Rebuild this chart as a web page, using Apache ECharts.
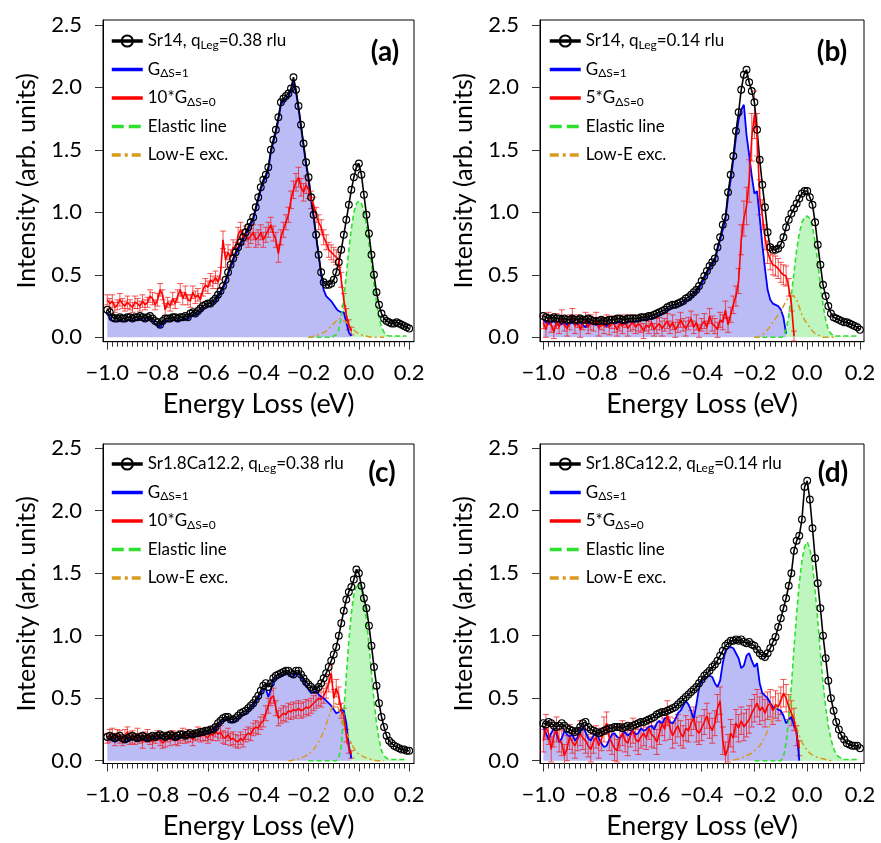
<!DOCTYPE html>
<html><head><meta charset="utf-8">
<script src="https://cdn.jsdelivr.net/npm/echarts@6/dist/echarts.min.js"></script>
<style>html,body{margin:0;padding:0;background:#fff}#c{width:881px;height:843px}</style>
</head><body><div id="c"></div>
<script>
const ENERGY = [-1.00,-0.99,-0.98,-0.97,-0.96,-0.95,-0.94,-0.93,-0.92,-0.91,
-0.90,-0.89,-0.88,-0.87,-0.86,-0.85,-0.84,-0.83,-0.82,-0.81,
-0.80,-0.79,-0.78,-0.77,-0.76,-0.75,-0.74,-0.73,-0.72,-0.71,
-0.70,-0.69,-0.68,-0.67,-0.66,-0.65,-0.64,-0.63,-0.62,-0.61,
-0.60,-0.59,-0.58,-0.57,-0.56,-0.55,-0.54,-0.53,-0.52,-0.51,
-0.50,-0.49,-0.48,-0.47,-0.46,-0.45,-0.44,-0.43,-0.42,-0.41,
-0.40,-0.39,-0.38,-0.37,-0.36,-0.35,-0.34,-0.33,-0.32,-0.31,
-0.30,-0.29,-0.28,-0.27,-0.26,-0.25,-0.24,-0.23,-0.22,-0.21,
-0.20,-0.19,-0.18,-0.17,-0.16,-0.15,-0.14,-0.13,-0.12,-0.11,
-0.10,-0.09,-0.08,-0.07,-0.06,-0.05,-0.04,-0.03,-0.02,-0.01,
0.00,0.01,0.02,0.03,0.04,0.05,0.06,0.07,0.08,0.09,
0.10,0.11,0.12,0.13,0.14,0.15,0.16,0.17,0.18,0.19,0.20];
const ELASTIC_E = ENERGY.slice(80, 120);   // -0.20 .. 0.19
const LOWE_E = ENERGY.slice(70, 111);      // -0.30 .. 0.10
const X_TICKS = [-1.0,-0.8,-0.6,-0.4,-0.2,0.0,0.2];
const Y_TICKS = [0.0,0.5,1.0,1.5,2.0,2.5];

// ---------- panel (a) Sr14, q=0.38 ----------
const BLACK_A = [0.22,0.20,0.16,0.15,0.15,0.16,0.15,0.15,0.16,0.16,
0.15,0.16,0.16,0.17,0.16,0.15,0.16,0.17,0.15,0.13,
0.12,0.10,0.13,0.15,0.15,0.15,0.16,0.16,0.15,0.16,
0.16,0.17,0.16,0.19,0.20,0.19,0.21,0.23,0.25,0.26,
0.27,0.27,0.29,0.31,0.34,0.37,0.41,0.46,0.52,0.58,
0.63,0.68,0.72,0.76,0.80,0.84,0.88,0.92,0.96,1.04,
1.12,1.20,1.26,1.30,1.36,1.50,1.58,1.66,1.76,1.88,
1.91,1.93,1.95,1.99,2.08,1.98,1.85,1.70,1.55,1.40,
1.28,1.12,0.98,0.82,0.66,0.52,0.44,0.42,0.42,0.43,
0.46,0.52,0.60,0.70,0.82,0.94,1.06,1.18,1.28,1.36,
1.39,1.30,1.14,0.98,0.83,0.66,0.50,0.36,0.26,0.19,
0.15,0.13,0.12,0.11,0.11,0.12,0.11,0.10,0.09,0.08,0.07];
const BLUE_A = [0.20,0.16,0.13,0.13,0.13,0.14,0.13,0.13,0.14,0.14,
0.13,0.14,0.14,0.15,0.14,0.13,0.14,0.15,0.13,0.11,
0.10,0.08,0.11,0.13,0.13,0.13,0.14,0.14,0.13,0.14,
0.14,0.15,0.14,0.17,0.18,0.17,0.19,0.21,0.23,0.24,
0.25,0.25,0.27,0.29,0.32,0.35,0.39,0.44,0.50,0.56,
0.61,0.66,0.70,0.74,0.78,0.82,0.86,0.90,0.94,1.02,
1.10,1.18,1.24,1.28,1.34,1.48,1.56,1.64,1.74,1.86,
1.89,1.91,1.93,1.97,2.05,1.96,1.83,1.68,1.53,1.38,
1.26,1.10,0.96,0.80,0.66,0.50,0.38,0.33,0.31,0.29,
0.26,0.23,0.21,0.20,0.20,0.12,0.04,0.01];
const RED_A = [0.30,0.27,0.29,0.24,0.26,0.30,0.27,0.25,0.28,0.26,
0.24,0.28,0.27,0.25,0.29,0.26,0.28,0.33,0.31,0.26,
0.30,0.38,0.34,0.22,0.28,0.25,0.31,0.27,0.33,0.38,
0.31,0.36,0.30,0.29,0.36,0.32,0.34,0.30,0.38,0.42,
0.40,0.46,0.44,0.48,0.44,0.51,0.78,0.62,0.68,0.64,
0.72,0.70,0.82,0.86,0.80,0.83,0.78,0.81,0.84,0.78,
0.80,0.84,0.78,0.82,0.86,0.90,0.83,0.78,0.67,0.80,
0.86,0.92,0.98,1.10,1.18,1.24,1.28,1.20,1.16,1.22,
1.18,1.10,1.06,0.98,0.92,0.88,0.80,0.76,0.70,0.68,
0.66,0.64,0.62,0.46,0.30,0.18,0.10,0.05];
const ERR_A = [0.04,0.04,0.05,0.04,0.04,0.05,0.04,0.04,0.05,0.04,
0.04,0.05,0.04,0.04,0.05,0.04,0.04,0.05,0.05,0.04,
0.05,0.05,0.04,0.05,0.04,0.04,0.05,0.04,0.05,0.05,
0.05,0.05,0.04,0.05,0.05,0.05,0.05,0.05,0.05,0.05,
0.05,0.05,0.05,0.05,0.05,0.05,0.07,0.06,0.06,0.06,
0.06,0.06,0.06,0.06,0.06,0.06,0.06,0.06,0.06,0.06,
0.06,0.06,0.06,0.06,0.06,0.06,0.06,0.06,0.07,0.06,
0.06,0.06,0.06,0.07,0.07,0.07,0.08,0.07,0.07,0.07,
0.07,0.07,0.06,0.06,0.06,0.06,0.06,0.06,0.06,0.06,
0.06,0.06,0.06,0.06,0.05,0.05,0.04,0.03];
const GREEN_A = [0,0,0,0,0,0,0,0,0,0,
0.01,0.02,0.06,0.16,0.32,0.50,0.70,0.87,1.00,1.07,
1.09,1.07,1.01,0.90,0.76,0.59,0.43,0.28,0.16,0.08,
0.04,0.02,0.01,0.01,0.01,0.01,0.01,0.01,0.01,0.01];
const ORANGE_A = [null,null,null,null,null,null,null,null,null,null,
0.00,0.00,0.01,0.015,0.02,0.03,0.04,0.05,0.07,0.09,
0.11,0.13,0.15,0.15,0.14,0.12,0.10,0.08,0.06,0.04,
0.03,0.02,0.015,0.01,0.005,0,0,0,0,0,0];

// ---------- panel (b) Sr14, q=0.14 ----------
const BLACK_B = [0.17,0.16,0.15,0.15,0.16,0.15,0.15,0.14,0.15,0.14,
0.14,0.15,0.14,0.14,0.15,0.14,0.14,0.15,0.14,0.13,
0.13,0.13,0.14,0.13,0.13,0.14,0.14,0.14,0.15,0.15,
0.14,0.14,0.15,0.15,0.15,0.15,0.15,0.16,0.16,0.16,
0.17,0.17,0.18,0.19,0.20,0.21,0.22,0.24,0.25,0.26,
0.26,0.27,0.28,0.29,0.31,0.32,0.34,0.36,0.38,0.41,
0.45,0.49,0.53,0.57,0.60,0.63,0.72,0.80,0.90,0.96,
1.16,1.30,1.45,1.65,1.80,1.98,2.10,2.14,2.04,1.97,
1.88,1.66,1.42,1.22,1.04,0.84,0.72,0.70,0.70,0.71,
0.74,0.80,0.88,0.94,0.99,1.03,1.07,1.11,1.15,1.17,
1.17,1.12,1.06,0.92,0.74,0.58,0.42,0.33,0.25,0.19,
0.16,0.15,0.14,0.13,0.12,0.12,0.11,0.10,0.09,0.08,0.06];
const BLUE_B = [0.14,0.12,0.11,0.12,0.13,0.11,0.10,0.11,0.12,0.10,
0.11,0.12,0.10,0.11,0.12,0.10,0.08,0.11,0.12,0.11,
0.10,0.10,0.11,0.10,0.09,0.11,0.12,0.11,0.12,0.12,
0.11,0.11,0.12,0.13,0.12,0.13,0.13,0.14,0.14,0.14,
0.15,0.15,0.16,0.17,0.18,0.19,0.20,0.22,0.23,0.24,
0.24,0.25,0.26,0.27,0.29,0.30,0.32,0.34,0.36,0.39,
0.43,0.47,0.51,0.55,0.58,0.61,0.70,0.78,0.86,0.94,
1.12,1.26,1.42,1.60,1.74,1.82,1.86,1.62,1.46,1.29,
1.15,1.17,0.96,0.74,0.55,0.38,0.30,0.27,0.26,0.25,
0.22,0.16,0.03];
const RED_B = [0.12,0.06,0.15,0.10,0.04,0.13,0.08,0.16,0.10,0.07,
0.12,0.18,0.09,0.13,0.06,0.11,0.14,0.08,0.12,0.10,
0.15,0.07,0.11,0.09,0.13,0.08,0.12,0.10,0.06,0.11,
0.09,0.13,0.07,0.10,0.12,0.08,0.11,0.09,0.05,0.10,
0.08,0.12,0.06,0.09,0.11,0.07,0.10,0.13,0.08,0.12,
0.06,0.09,0.14,0.10,0.07,0.11,0.15,0.08,0.12,0.05,
0.10,0.13,0.08,0.17,0.11,0.09,0.06,0.14,0.12,0.22,
0.10,0.18,0.26,0.33,0.45,0.78,0.95,1.05,1.25,1.60,
1.78,1.62,1.12,0.98,0.80,0.68,0.62,0.58,0.57,0.55,
0.52,0.50,0.49,0.40,0.27,0.01];
const ERR_B = [0.05,0.06,0.05,0.06,0.05,0.06,0.05,0.06,0.05,0.06,
0.06,0.05,0.06,0.05,0.06,0.05,0.06,0.05,0.06,0.05,
0.05,0.06,0.05,0.06,0.05,0.06,0.05,0.06,0.05,0.06,
0.06,0.05,0.06,0.05,0.06,0.05,0.06,0.05,0.06,0.05,
0.05,0.06,0.05,0.06,0.05,0.06,0.05,0.06,0.05,0.06,
0.06,0.05,0.06,0.05,0.06,0.05,0.06,0.05,0.06,0.05,
0.05,0.06,0.05,0.06,0.06,0.06,0.06,0.06,0.06,0.07,
0.06,0.06,0.07,0.08,0.10,0.12,0.14,0.15,0.17,0.19,
0.19,0.17,0.14,0.12,0.10,0.09,0.08,0.08,0.08,0.08,
0.08,0.08,0.08,0.07,0.06,0.04];
const GREEN_B = [0,0,0,0,0,0,0,0,0,0,
0.00,0.01,0.06,0.17,0.34,0.52,0.70,0.83,0.92,0.96,
0.97,0.95,0.88,0.76,0.60,0.42,0.26,0.14,0.06,0.03,
0.01,0.01,0.01,0.01,0.01,0.01,0.01,0.01,0.01,0.01];
const ORANGE_B = [null,null,null,null,null,null,null,null,null,null,
0.00,0.00,0.01,0.02,0.04,0.06,0.09,0.12,0.15,0.18,
0.21,0.25,0.29,0.32,0.33,0.33,0.30,0.24,0.18,0.14,
0.11,0.08,0.05,0.03,0.02,0.01,0,0,0,0,0];

// ---------- panel (c) Sr1.8Ca12.2, q=0.38 ----------
const BLACK_C = [0.19,0.20,0.19,0.18,0.19,0.20,0.18,0.17,0.18,0.19,
0.20,0.19,0.18,0.19,0.20,0.19,0.18,0.19,0.20,0.19,
0.20,0.21,0.20,0.19,0.20,0.21,0.20,0.19,0.20,0.21,
0.21,0.20,0.21,0.22,0.21,0.22,0.22,0.23,0.23,0.24,
0.24,0.25,0.25,0.27,0.30,0.32,0.34,0.35,0.35,0.33,
0.33,0.34,0.36,0.38,0.39,0.40,0.42,0.44,0.46,0.49,
0.52,0.56,0.60,0.62,0.59,0.62,0.66,0.68,0.69,0.70,
0.71,0.72,0.72,0.70,0.69,0.72,0.72,0.69,0.66,0.63,
0.61,0.59,0.57,0.57,0.59,0.62,0.66,0.70,0.75,0.80,
0.85,0.91,1.00,1.10,1.20,1.29,1.35,1.39,1.45,1.53,
1.50,1.40,1.30,1.22,1.08,0.92,0.75,0.60,0.46,0.35,
0.27,0.20,0.16,0.14,0.12,0.11,0.10,0.09,0.09,0.08,0.08];
const BLUE_C = [0.17,0.18,0.17,0.15,0.16,0.18,0.16,0.15,0.16,0.17,
0.18,0.17,0.16,0.17,0.18,0.17,0.16,0.17,0.18,0.17,
0.18,0.19,0.18,0.17,0.18,0.19,0.18,0.17,0.18,0.19,
0.19,0.18,0.19,0.20,0.19,0.20,0.20,0.21,0.21,0.22,
0.22,0.23,0.23,0.25,0.28,0.30,0.32,0.33,0.33,0.31,
0.31,0.32,0.34,0.36,0.37,0.38,0.40,0.42,0.44,0.47,
0.50,0.54,0.57,0.58,0.51,0.57,0.64,0.66,0.67,0.68,
0.69,0.70,0.70,0.68,0.67,0.70,0.70,0.67,0.63,0.60,
0.57,0.54,0.55,0.56,0.53,0.51,0.50,0.48,0.46,0.44,
0.41,0.38,0.39,0.41,0.40,0.30,0.12,0.02];
const RED_C = [0.18,0.20,0.22,0.17,0.21,0.19,0.16,0.20,0.23,0.18,
0.19,0.17,0.21,0.18,0.15,0.19,0.20,0.17,0.15,0.18,
0.20,0.17,0.14,0.16,0.19,0.17,0.20,0.18,0.16,0.19,
0.21,0.18,0.20,0.19,0.17,0.20,0.22,0.19,0.21,0.20,
0.18,0.22,0.20,0.24,0.21,0.23,0.19,0.18,0.21,0.17,
0.18,0.16,0.15,0.18,0.16,0.20,0.22,0.21,0.25,0.27,
0.26,0.30,0.32,0.38,0.44,0.50,0.52,0.42,0.34,0.36,
0.38,0.37,0.40,0.39,0.41,0.40,0.42,0.40,0.41,0.43,
0.42,0.44,0.46,0.48,0.50,0.49,0.52,0.56,0.62,0.70,
0.50,0.58,0.52,0.40,0.36,0.20,0.10,0.05];
const ERR_C = [0.04,0.05,0.04,0.05,0.04,0.05,0.04,0.05,0.04,0.05,
0.05,0.04,0.05,0.04,0.05,0.04,0.05,0.04,0.05,0.04,
0.04,0.05,0.04,0.05,0.04,0.05,0.04,0.05,0.04,0.05,
0.05,0.04,0.05,0.04,0.05,0.04,0.05,0.04,0.05,0.04,
0.04,0.05,0.04,0.05,0.05,0.05,0.05,0.05,0.05,0.05,
0.05,0.05,0.05,0.05,0.05,0.05,0.05,0.05,0.05,0.05,
0.05,0.05,0.05,0.06,0.06,0.06,0.06,0.06,0.06,0.06,
0.06,0.06,0.06,0.06,0.06,0.06,0.06,0.06,0.06,0.06,
0.06,0.06,0.06,0.06,0.06,0.06,0.06,0.06,0.07,0.07,
0.07,0.07,0.07,0.06,0.06,0.05,0.04,0.03];
const GREEN_C = [0,0,0,0,0,0,0,0,0,0,
0.00,0.00,0.02,0.12,0.38,0.68,0.96,1.18,1.33,1.40,
1.42,1.38,1.28,1.13,0.93,0.70,0.48,0.30,0.17,0.08,
0.04,0.02,0.01,0.01,0.01,0.01,0.01,0.01,0.01,0.01];
const ORANGE_C = [null,null,0.00,0.00,0.005,0.01,0.015,0.02,0.03,0.04,
0.05,0.07,0.09,0.12,0.15,0.19,0.23,0.29,0.35,0.41,
0.45,0.46,0.41,0.33,0.27,0.22,0.18,0.14,0.10,0.07,
0.05,0.04,0.03,0.02,0.015,0.01,0.005,0,0,0,0];

// ---------- panel (d) Sr1.8Ca12.2, q=0.14 ----------
const BLACK_D = [0.30,0.29,0.31,0.30,0.28,0.27,0.28,0.30,0.28,0.26,
0.25,0.24,0.23,0.24,0.27,0.30,0.31,0.27,0.25,0.24,
0.23,0.22,0.23,0.24,0.25,0.26,0.26,0.27,0.27,0.27,
0.26,0.27,0.28,0.27,0.28,0.29,0.30,0.31,0.31,0.32,
0.33,0.34,0.35,0.37,0.38,0.39,0.39,0.40,0.41,0.42,
0.43,0.45,0.47,0.49,0.51,0.53,0.55,0.57,0.59,0.62,
0.65,0.68,0.70,0.72,0.75,0.77,0.80,0.84,0.88,0.92,
0.94,0.96,0.96,0.97,0.96,0.97,0.95,0.94,0.95,0.93,
0.92,0.89,0.86,0.84,0.83,0.86,0.90,0.95,0.99,1.07,
1.14,1.22,1.30,1.40,1.50,1.68,1.76,1.80,1.93,2.19,
2.24,2.09,1.86,1.62,1.42,1.22,1.00,0.82,0.64,0.50,
0.40,0.31,0.25,0.20,0.17,0.14,0.13,0.12,0.12,0.12,0.10];
const BLUE_D = [0.27,0.22,0.17,0.22,0.26,0.22,0.15,0.18,0.24,0.21,
0.19,0.21,0.16,0.19,0.24,0.27,0.23,0.18,0.16,0.20,
0.22,0.18,0.14,0.11,0.12,0.17,0.21,0.22,0.19,0.18,
0.21,0.23,0.20,0.22,0.24,0.21,0.22,0.26,0.24,0.25,
0.27,0.28,0.25,0.30,0.32,0.29,0.34,0.35,0.31,0.30,
0.33,0.38,0.40,0.44,0.48,0.45,0.40,0.33,0.45,0.58,
0.64,0.65,0.67,0.68,0.67,0.62,0.59,0.64,0.78,0.88,
0.90,0.91,0.90,0.86,0.82,0.74,0.76,0.84,0.86,0.80,
0.75,0.78,0.62,0.54,0.52,0.50,0.46,0.43,0.42,0.41,
0.40,0.36,0.30,0.33,0.35,0.28,0.24,0.00];
const RED_D = [0.16,0.27,0.22,0.09,0.20,0.25,0.16,0.14,0.04,0.10,
0.19,0.15,0.12,0.17,0.22,0.18,0.16,0.12,0.09,0.15,
0.19,0.12,0.17,0.25,0.30,0.18,0.14,0.10,0.08,0.18,
0.22,0.16,0.14,0.20,0.24,0.17,0.15,0.19,0.22,0.18,
0.26,0.21,0.19,0.15,0.22,0.30,0.25,0.38,0.26,0.20,
0.24,0.28,0.22,0.19,0.26,0.24,0.30,0.34,0.25,0.22,
0.26,0.31,0.36,0.28,0.24,0.30,0.42,0.48,0.16,0.04,
0.10,0.22,0.18,0.30,0.26,0.32,0.27,0.30,0.33,0.38,
0.42,0.46,0.40,0.43,0.38,0.44,0.46,0.40,0.45,0.43,
0.48,0.54,0.50,0.43,0.38,0.33,0.20,0.10];
const ERR_D = [0.09,0.10,0.09,0.10,0.09,0.10,0.09,0.10,0.09,0.10,
0.10,0.09,0.10,0.09,0.10,0.09,0.10,0.09,0.10,0.09,
0.09,0.10,0.09,0.10,0.09,0.10,0.09,0.10,0.09,0.10,
0.10,0.09,0.10,0.09,0.10,0.09,0.10,0.09,0.10,0.09,
0.09,0.10,0.09,0.10,0.09,0.10,0.09,0.10,0.09,0.10,
0.10,0.09,0.10,0.09,0.10,0.09,0.10,0.09,0.10,0.09,
0.10,0.10,0.10,0.10,0.10,0.10,0.11,0.11,0.11,0.11,
0.11,0.11,0.11,0.11,0.11,0.11,0.11,0.11,0.11,0.11,
0.11,0.11,0.11,0.11,0.11,0.11,0.11,0.11,0.11,0.11,
0.11,0.11,0.11,0.10,0.10,0.09,0.08,0.06];
const GREEN_D = [0,0,0,0,0,0,0,0,0,0,
0.00,0.03,0.14,0.34,0.60,0.90,1.18,1.42,1.60,1.71,
1.75,1.70,1.57,1.36,1.12,0.86,0.62,0.43,0.28,0.17,
0.10,0.05,0.03,0.02,0.01,0.01,0.01,0.01,0.01,0.01];
const ORANGE_D = [null,null,0.005,0.01,0.015,0.02,0.03,0.04,0.05,0.06,
0.08,0.10,0.12,0.15,0.19,0.24,0.29,0.35,0.41,0.46,
0.50,0.53,0.54,0.52,0.45,0.36,0.27,0.20,0.15,0.11,
0.085,0.06,0.045,0.035,0.025,0.02,0.015,0.01,0.005,0,0];

const FONT = 'Lato, "Open Sans", sans-serif';

const PANELS = [
  {id:'a', tag:'(a)', data:'Sr14, q{sub|Leg}=0.38 rlu', red:'10*G{sub|ΔS=0}',
   black:BLACK_A, blue:BLUE_A, redv:RED_A, err:ERR_A, green:GREEN_A, orange:ORANGE_A,
   grid:{left:103, top:20, width:311, height:321.7}, xmin:-1.017, xmax:0.219, ymin:-0.035, ymax:2.538,
   leg:{left:110, top:31}, lab:[385,52]},
  {id:'b', tag:'(b)', data:'Sr14, q{sub|Leg}=0.14 rlu', red:'5*G{sub|ΔS=0}',
   black:BLACK_B, blue:BLUE_B, redv:RED_B, err:ERR_B, green:GREEN_B, orange:ORANGE_B,
   grid:{left:540, top:20, width:324, height:321.7}, xmin:-1.0125, xmax:0.2152, ymin:-0.035, ymax:2.538,
   leg:{left:548, top:31}, lab:[832,52]},
  {id:'c', tag:'(c)', data:'Sr1.8Ca12.2, q{sub|Leg}=0.38 rlu', red:'10*G{sub|ΔS=0}',
   black:BLACK_C, blue:BLUE_C, redv:RED_C, err:ERR_C, green:GREEN_C, orange:ORANGE_C,
   grid:{left:103, top:444, width:311, height:319.5}, xmin:-1.017, xmax:0.219, ymin:-0.0224, ymax:2.534,
   leg:{left:110, top:454}, lab:[382,473]},
  {id:'d', tag:'(d)', data:'Sr1.8Ca12.2, q{sub|Leg}=0.14 rlu', red:'5*G{sub|ΔS=0}',
   black:BLACK_D, blue:BLUE_D, redv:RED_D, err:ERR_D, green:GREEN_D, orange:ORANGE_D,
   grid:{left:540, top:444, width:324, height:319.5}, xmin:-1.0125, xmax:0.2152, ymin:-0.0224, ymax:2.534,
   leg:{left:548, top:454}, lab:[833,473]}
];

function pairs(xs, ys){ return ys.map((v,i)=>[xs[i], v]); }
const X_MINOR = [];
for (let t = -50; t <= 10; t++) X_MINOR.push(t/50);
const fmtTick = v => (v < 0 ? '\u2212' : '') + Math.abs(v).toFixed(1);

const grids=[], xAxes=[], yAxes=[], series=[], legends=[], graphics=[];
const LABELS = {};
const NO_SYMBOL = {opacity:0};

PANELS.forEach((P,k)=>{
  grids.push(Object.assign({show:true, borderColor:'#000', borderWidth:1, backgroundColor:'rgba(0,0,0,0)'}, P.grid));
  xAxes.push({type:'value', gridIndex:k, min:P.xmin, max:P.xmax, position:'bottom',
    axisLine:{show:true, onZero:false, lineStyle:{color:'#000', width:1}},
    axisTick:{show:true, inside:false, length:8, customValues:X_TICKS, lineStyle:{color:'#333'}},
    axisLabel:{show:true, customValues:X_TICKS, formatter:fmtTick, fontSize:22, fontFamily:FONT, color:'#000', margin:20},
    splitLine:{show:false},
    name:'Energy Loss (eV)', nameLocation:'middle', nameGap:49,
    nameTextStyle:{fontSize:27, fontFamily:FONT, color:'#000'}});
  xAxes.push({type:'value', gridIndex:k, min:P.xmin, max:P.xmax, position:'bottom',
    axisLine:{show:false, onZero:false},
    axisTick:{show:true, inside:false, length:5, customValues:X_MINOR, lineStyle:{color:'#333'}},
    axisLabel:{show:false}, splitLine:{show:false}});
  yAxes.push({type:'value', gridIndex:k, min:P.ymin, max:P.ymax,
    axisLine:{show:true, onZero:false, lineStyle:{color:'#000', width:1}},
    axisTick:{show:true, inside:false, length:8, customValues:Y_TICKS, lineStyle:{color:'#333'}},
    axisLabel:{show:true, customValues:Y_TICKS, formatter:fmtTick, fontSize:22, fontFamily:FONT, color:'#000', margin:21},
    splitLine:{show:false},
    name:'Intensity (arb. units)', nameLocation:'middle', nameGap:64,
    nameTextStyle:{fontSize:25, fontFamily:FONT, color:'#000'}});

  const xi = 2*k, yi = k, id = P.id;
  const nData = id+'_data', nBlue = id+'_blue', nRed = id+'_red', nEl = id+'_el', nLow = id+'_low';
  LABELS[nData] = P.data; LABELS[nBlue] = 'G{sub|ΔS=1}'; LABELS[nRed] = P.red;
  LABELS[nEl] = 'Elastic line'; LABELS[nLow] = 'Low-E exc.';

  series.push({name:id+'_elfill', type:'line', xAxisIndex:xi, yAxisIndex:yi, data:pairs(ELASTIC_E, P.green),
    symbol:'none', lineStyle:{width:0, opacity:0}, areaStyle:{color:'#bff5bf', opacity:1}, silent:true, z:2});
  series.push({name:nBlue, type:'line', xAxisIndex:xi, yAxisIndex:yi, data:pairs(ENERGY, P.blue),
    symbol:'none', itemStyle:{color:'#0000ff'}, lineStyle:{color:'#0000ff', width:1.8},
    areaStyle:{color:'#bbbbf6', opacity:1}, silent:true, z:2});
  series.push({name:nEl, type:'line', xAxisIndex:xi, yAxisIndex:yi, data:pairs(ELASTIC_E, P.green),
    symbol:'none', itemStyle:{color:'#2fe02f'}, lineStyle:{color:'#2fe02f', width:1.6, type:[5,3]}, silent:true, z:2});
  series.push({name:nLow, type:'line', xAxisIndex:xi, yAxisIndex:yi, data:pairs(LOWE_E, P.orange),
    symbol:'none', itemStyle:{color:'#e0a020'}, lineStyle:{color:'#d99a1e', width:1.5, type:[6,3,2,3]}, silent:true, z:2});
  series.push({name:nData, type:'line', xAxisIndex:xi, yAxisIndex:yi, data:pairs(ENERGY, P.black),
    symbol:'circle', symbolSize:6.8, showAllSymbol:true,
    itemStyle:{color:'rgba(0,0,0,0)', borderColor:'#000', borderWidth:1.1},
    lineStyle:{color:'#000', width:1.6}, silent:true, z:2});
  series.push({name:id+'_err', type:'custom', xAxisIndex:xi, yAxisIndex:yi, clip:true, silent:true, z:2,
    data:P.redv.map((v,i)=>[ENERGY[i], v, P.err[i]]), encode:{x:0, y:1},
    renderItem:(params, api)=>{
      const x = api.value(0), y = api.value(1), e = api.value(2);
      const t = api.coord([x, y+e]), b = api.coord([x, y-e]);
      const hw = 3;
      const st = {stroke:'rgba(240,30,30,0.75)', lineWidth:1};
      return {type:'group', children:[
        {type:'line', shape:{x1:t[0], y1:t[1], x2:b[0], y2:b[1]}, style:st},
        {type:'line', shape:{x1:t[0]-hw, y1:t[1], x2:t[0]+hw, y2:t[1]}, style:st},
        {type:'line', shape:{x1:b[0]-hw, y1:b[1], x2:b[0]+hw, y2:b[1]}, style:st}
      ]};
    }});
  series.push({name:nRed, type:'line', xAxisIndex:xi, yAxisIndex:yi, data:pairs(ENERGY, P.redv),
    symbol:'none', itemStyle:{color:'#ff0000'}, lineStyle:{color:'#ff0000', width:1.6}, silent:true, z:2});

  legends.push({show:true, orient:'vertical', left:P.leg.left, top:P.leg.top, padding:0,
    itemGap:8.5, itemWidth:31, itemHeight:14, selectedMode:false,
    lineStyle:{width:3.5},
    data:[nData,
      {name:nBlue, itemStyle:NO_SYMBOL},
      {name:nRed, itemStyle:NO_SYMBOL},
      {name:nEl, itemStyle:NO_SYMBOL, lineStyle:{type:[12,5]}},
      {name:nLow, itemStyle:NO_SYMBOL, lineStyle:{type:[9,4,3,4]}}],
    formatter:name=>LABELS[name],
    textStyle:{fontFamily:FONT, fontSize:17, color:'#000', lineHeight:20,
      rich:{sub:{fontFamily:FONT, fontSize:12, color:'#000', lineHeight:11, verticalAlign:'bottom'}}}});

  graphics.push({type:'text', x:P.lab[0], y:P.lab[1], z:10,
    style:{text:P.tag, fill:'#000', font:'bold 28px '+FONT, textAlign:'center', textVerticalAlign:'middle'}});
});

const chart = echarts.init(document.getElementById('c'), null, {renderer:'canvas'});
chart.setOption({
  animation:false,
  backgroundColor:'#fff',
  grid:grids, xAxis:xAxes, yAxis:yAxes, series:series, legend:legends, graphic:graphics
});
</script></body></html>
